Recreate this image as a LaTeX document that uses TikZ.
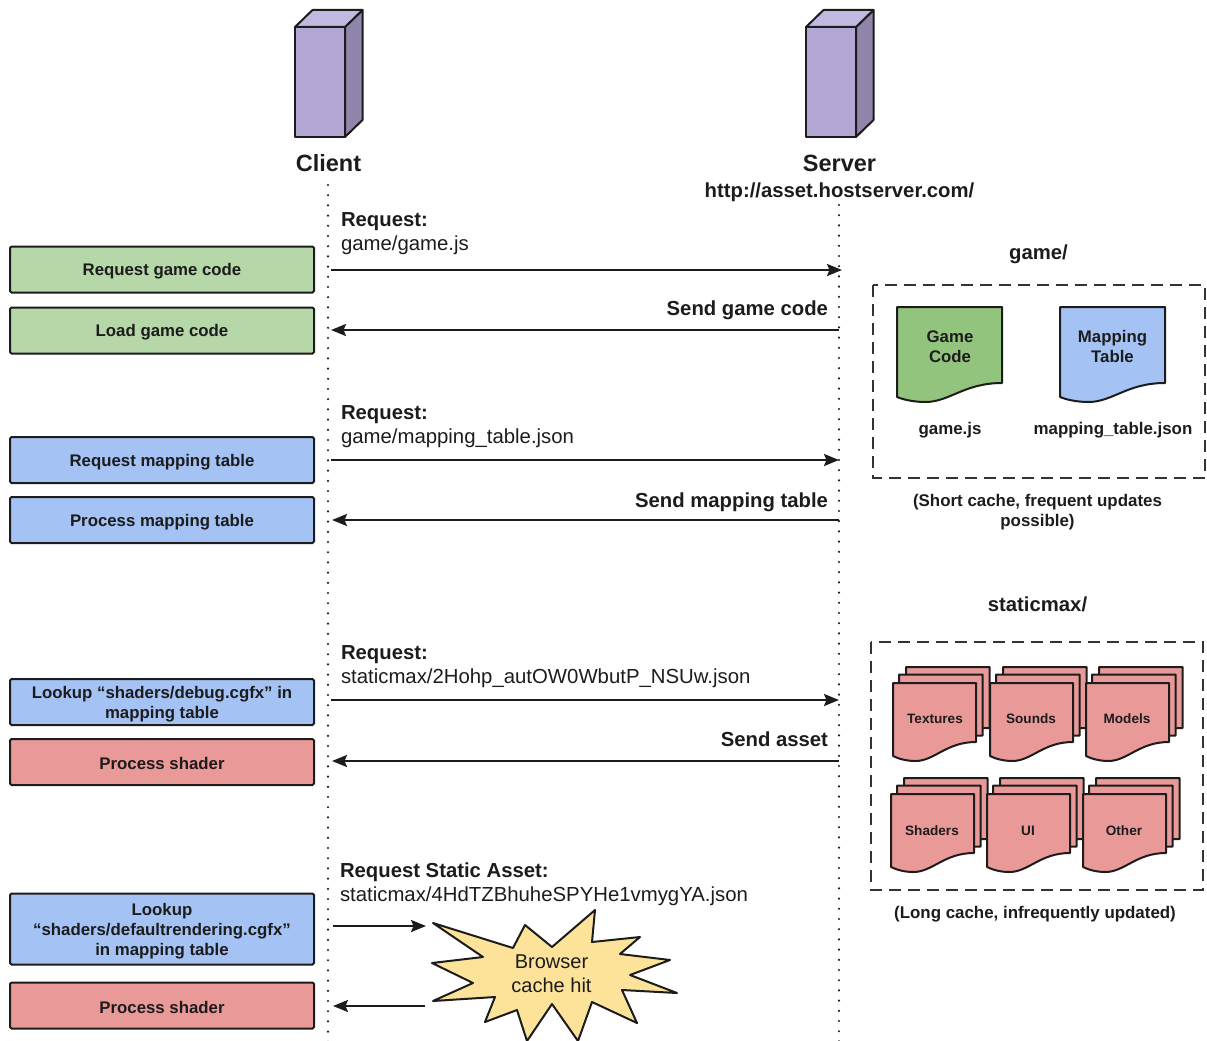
\documentclass[tikz,border=0pt]{standalone}
\usepackage{fontspec}
\setmainfont{Liberation Sans}
\usetikzlibrary{arrows.meta, positioning}
\definecolor{boxgreen}{HTML}{B6D7A8}
\definecolor{boxblue}{HTML}{A4C2F4}
\definecolor{boxred}{HTML}{EA9999}
\definecolor{docgreen}{HTML}{93C47D}
\definecolor{burstyellow}{HTML}{FDE39A}
\definecolor{srvfront}{HTML}{B4A7D6}
\definecolor{srvtop}{HTML}{C3B9E0}
\definecolor{srvside}{HTML}{9085AB}
\definecolor{inkdark}{HTML}{1C1C1C}
\tikzset{
    every node/.style={font=\bfseries\fontsize{16.8}{20}\selectfont, text=inkdark, inner sep=0pt, outer sep=0pt},
    stepbox/.style={draw=inkdark, line width=2pt, rounded corners=1.5pt, minimum width=304pt, minimum height=46pt, align=center,
        execute at begin node={\rule{0pt}{16pt}}},
    actor label/.style={font=\bfseries\fontsize{23.5}{28}\selectfont},
    head label/.style={font=\bfseries\fontsize{20.3}{24}\selectfont},
    path label/.style={font=\fontsize{20.35}{24}\selectfont},
    file label/.style={font=\bfseries\fontsize{16.9}{20}\selectfont, align=center},
    stack label/.style={font=\bfseries\fontsize{13.6}{18}\selectfont},
    lifeline/.style={line width=2.4pt, line cap=round, dash pattern=on 0pt off 10.2pt, inkdark},
    msg/.style={-{Stealth[length=15pt, width=12pt, inset=2.5pt]}, line width=2.2pt, inkdark},
    frame/.style={draw=inkdark!90, line width=2pt, dash pattern=on 12pt off 7pt},
    pagestyle/.style={draw=inkdark, line width=2pt, line join=round}
}
% page with a wavy lower edge: x, y, width, height of right side, fill
\newcommand{\docpage}[5]{
    \draw[pagestyle, fill=#5] (#1,#2) -- ++(#3,0) -- ++(0,#4)
        .. controls (#1+0.64*#3,#2+#4) and (#1+0.5*#3,#2+#4+19) .. (#1+0.27*#3,#2+#4+19)
        .. controls (#1+0.17*#3,#2+#4+19) and (#1+0.07*#3,#2+#4+17) .. (#1,#2+#4+14) -- cycle;
}
% three stacked pages, the front one at x, y
\newcommand{\docstack}[2]{
    \docpage{#1+13}{#2-16}{83.5}{61}{boxred}
    \docpage{#1+6}{#2-8.5}{83.5}{61}{boxred}
    \docpage{#1}{#2}{83}{59}{boxred}
}
% box with depth: x of the front face
\newcommand{\srvbox}[1]{
    \draw[pagestyle, fill=srvside] (#1+50,27) -- ++(17.5,-17) -- ++(0,110) -- ++(-17.5,17) -- cycle;
    \draw[pagestyle, fill=srvtop] (#1,27) -- ++(17.5,-17) -- ++(50,0) -- ++(-17.5,17) -- cycle;
    \draw[pagestyle, fill=srvfront] (#1,27) rectangle ++(50,110);
}
\begin{document}
\begin{tikzpicture}[
            x = 1pt,
            y = -1pt,
            semithick
        ]
        \useasboundingbox (0,0) rectangle (1207,1041);

        \srvbox{295}
        \srvbox{806}
        \node[actor label] (client) at (328.5,163.5) {Client};
        \node[actor label] (server) at (839.5,163.5) {Server};
        \node[head label] (url) at (839.5,192) {http://asset.hostserver.com/};

        % lifelines
        \coordinate (ctop) at (328,185);
        \coordinate (cend) at (328,1044);
        \coordinate (stop) at (839,205);
        \coordinate (send) at (839,1044);
        \draw[lifeline] (ctop) -- (cend);
        \draw[lifeline] (stop) -- (send);

        % client side steps
        \node[stepbox, fill=boxgreen] (reqgame) at (162,269.5) {Request game code};
        \node[stepbox, fill=boxgreen] [below=15pt of reqgame] (loadgame) {Load game code};
        \node[stepbox, fill=boxblue] (reqtable) at (162,460) {Request mapping table};
        \node[stepbox, fill=boxblue] [below=14pt of reqtable] (proctable) {Process mapping table};
        \node[stepbox, fill=boxblue] (lookup) at (162,702) {};
        \node[align=center] [yshift=-2.5pt] (lookuptext) at (lookup.center) {Lookup “shaders/debug.cgfx” in\\mapping table};
        \node[stepbox, fill=boxred] [below=14pt of lookup] (procshader) {Process shader};
        \node[stepbox, fill=boxblue, minimum height=71pt] (lookupdef) at (162,929) {};
        \node[align=center] [yshift=-2pt] (lookupdeftext) at (lookupdef.center) {Lookup\\“shaders/defaultrendering.cgfx”\\in mapping table};
        \node[stepbox, fill=boxred] [below=18pt of lookupdef] (procdef) {Process shader};

        % messages
        \coordinate (c1) at (331,270);
        \coordinate (s1) at (842,270);
        \coordinate (c2) at (331,330);
        \coordinate (s2) at (839,330);
        \coordinate (c3) at (331,460);
        \coordinate (s3) at (839,460);
        \coordinate (c4) at (332,520);
        \coordinate (s4) at (839,520);
        \coordinate (c5) at (331,700);
        \coordinate (s5) at (839,700);
        \coordinate (c6) at (332,761);
        \coordinate (s6) at (839,761);
        \coordinate (c7) at (333,926);
        \coordinate (b7) at (426,926);
        \coordinate (c8) at (333,1006);
        \coordinate (b8) at (425,1006);
        \draw[msg] (c1) -- (s1);
        \draw[msg] (s2) -- (c2);
        \draw[msg] (c3) -- (s3);
        \draw[msg] (s4) -- (c4);
        \draw[msg] (c5) -- (s5);
        \draw[msg] (s6) -- (c6);
        \draw[msg] (c7) -- (b7);
        \draw[msg] (b8) -- (c8);

        \node[head label, anchor=west] (req1) at (341,221.5) {Request:};
        \node[path label, anchor=west] (path1) at (341,245) {game/game.js};
        \node[head label, anchor=east] (ans1) at (828,310) {Send game code};
        \node[head label, anchor=west] (req2) at (341,414.5) {Request:};
        \node[path label, anchor=west] (path2) at (341,438) {game/mapping\_table.json};
        \node[head label, anchor=east] (ans2) at (828,502) {Send mapping table};
        \node[head label, anchor=west] (req3) at (341,654.5) {Request:};
        \node[path label, anchor=west] (path3) at (341,678) {staticmax/2Hohp\_autOW0WbutP\_NSUw.json};
        \node[head label, anchor=east] (ans3) at (828,739.5) {Send asset};
        \node[head label, anchor=west] (req4) at (340,872) {Request Static Asset:};
        \node[path label, anchor=west] (path4) at (340,896) {staticmax/4HdTZBhuheSPYHe1vmygYA.json};

        % cache burst
        \draw[pagestyle, fill=burstyellow] (433,923) -- (513,948) -- (525,925) -- (552,947) -- (595,910)
            -- (592,942) -- (640,937) -- (620,954) -- (670,960) -- (630,975) -- (677,993) -- (622,990)
            -- (637,1023) -- (592,1002) -- (578,1041) -- (552,1004) -- (527,1041) -- (517,1010)
            -- (485,1022) -- (495,997) -- (433,1001) -- (473,983) -- (432,963) -- (483,957) -- cycle;
        \node[font=\fontsize{20}{24}\selectfont, align=center] (burst) at (551.5,974) {Browser\\cache hit};

        % short cache group
        \node[head label] (gamedir) at (1038.5,254.5) {game/};
        \draw[frame] (873,285) rectangle (1205,478);
        \docpage{897}{307}{105}{76}{docgreen}
        \docpage{1060}{307}{105}{76}{boxblue}
        \node[align=center] (gamecode) at (950,346.5) {Game\\Code};
        \node[align=center] (maptable) at (1112.5,346) {Mapping\\Table};
        \node[file label] (gamejs) at (950,430) {game.js};
        \node[file label] (mapjson) at (1113,430) {mapping\_table.json};
        \node[file label] (shortnote) at (1037.5,512) {(Short cache, frequent updates\\possible)};

        % long cache group
        \node[head label] (staticdir) at (1037.5,604.5) {staticmax/};
        \draw[frame] (871,642) rectangle (1203,890);
        \docstack{893}{683}
        \docstack{990}{683}
        \docstack{1086}{683}
        \docstack{891}{794}
        \docstack{987}{794}
        \docstack{1083}{794}
        \node[stack label] (textures) at (935,718.5) {Textures};
        \node[stack label] (sounds) at (1031,718.5) {Sounds};
        \node[stack label] (models) at (1127,718.5) {Models};
        \node[stack label] (shaders) at (932,830.5) {Shaders};
        \node[stack label] (ui) at (1028,830.5) {UI};
        \node[stack label] (other) at (1124,830.5) {Other};
        \node[file label] (longnote) at (1035,914) {(Long cache, infrequently updated)};

  \end{tikzpicture}
\end{document}
